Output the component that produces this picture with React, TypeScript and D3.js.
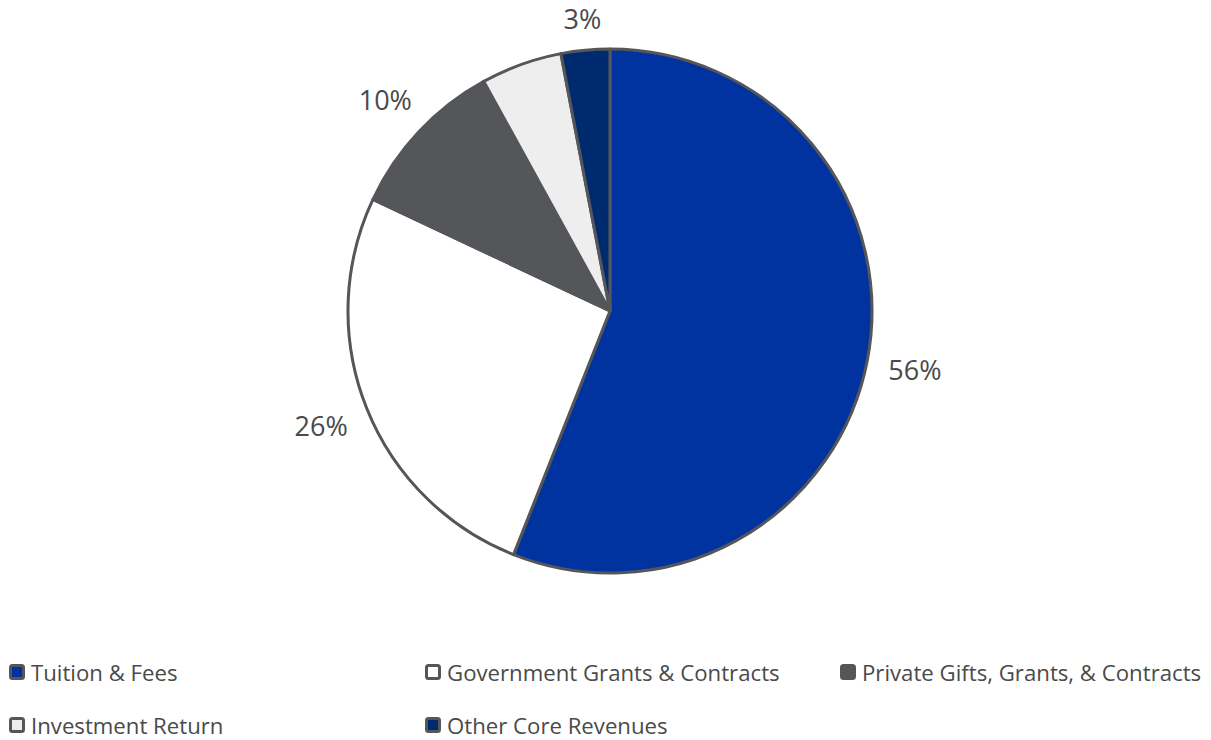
import React from "react";
import * as d3 from "d3";

const categories = [
  "Tuition & Fees",
  "Government Grants & Contracts",
  "Private Gifts, Grants, & Contracts",
  "Investment Return",
  "Other Core Revenues",
];
const values = [56, 26, 10, 5, 3];
const showLabel = [true, true, true, false, true];
const colors = ["#0033A0", "#FFFFFF", "#54565A", "#EEEEEE", "#002A6E"];

const W = 1211;
const H = 740;
const FONT = "'Open Sans', sans-serif";
const TEXT = "#4a4a4a";
const STROKE = "#54565A";

export default function App() {
  const cx = 610;
  const cy = 311;
  const r = 262;
  const pie = d3.pie<number>().sort(null).value((d) => d)(values);
  const arc = d3.arc<d3.PieArcDatum<number>>().innerRadius(0).outerRadius(r);
  const total = d3.sum(values);

  const legendCols = [9, 425, 840];
  const legendRows = [672, 725];

  return (
    <svg
      width={W}
      height={H}
      style={{ position: "absolute", left: 0, top: 0, background: "#fff" }}
      fontFamily={FONT}
    >
      <g transform={`translate(${cx},${cy})`}>
        {pie.map((p, i) => (
          <path
            key={i}
            d={arc(p) || ""}
            fill={colors[i]}
            stroke={STROKE}
            strokeWidth={3}
            strokeLinejoin="round"
          />
        ))}
        {pie.map((p, i) => {
          if (!showLabel[i]) return null;
          const mid = (p.startAngle + p.endAngle) / 2;
          const ux = Math.sin(mid);
          const uy = -Math.cos(mid);
          const hw = 28;
          const hh = 10;
          const dist = r + 19 + Math.abs(ux) * hw + Math.abs(uy) * hh;
          const x = ux * dist;
          const y = uy * dist;
          return (
            <text
              key={i}
              x={x}
              y={y}
              textAnchor="middle"
              dominantBaseline="central"
              fontSize={27}
              fill={TEXT}
            >
              {Math.round((values[i] / total) * 100)}%
            </text>
          );
        })}
      </g>
      {categories.map((c, i) => {
        const col = i < 3 ? i : i - 3;
        const row = i < 3 ? 0 : 1;
        const x = legendCols[col];
        const y = legendRows[row];
        return (
          <g key={c} transform={`translate(${x},${y})`}>
            <rect
              x={1.5}
              y={-6.5}
              width={13}
              height={13}
              rx={2}
              fill={colors[i]}
              stroke={STROKE}
              strokeWidth={3}
            />
            <text x={22} y={0} dominantBaseline="central" fontSize={22.2} fill={TEXT}>
              {c}
            </text>
          </g>
        );
      })}
    </svg>
  );
}
